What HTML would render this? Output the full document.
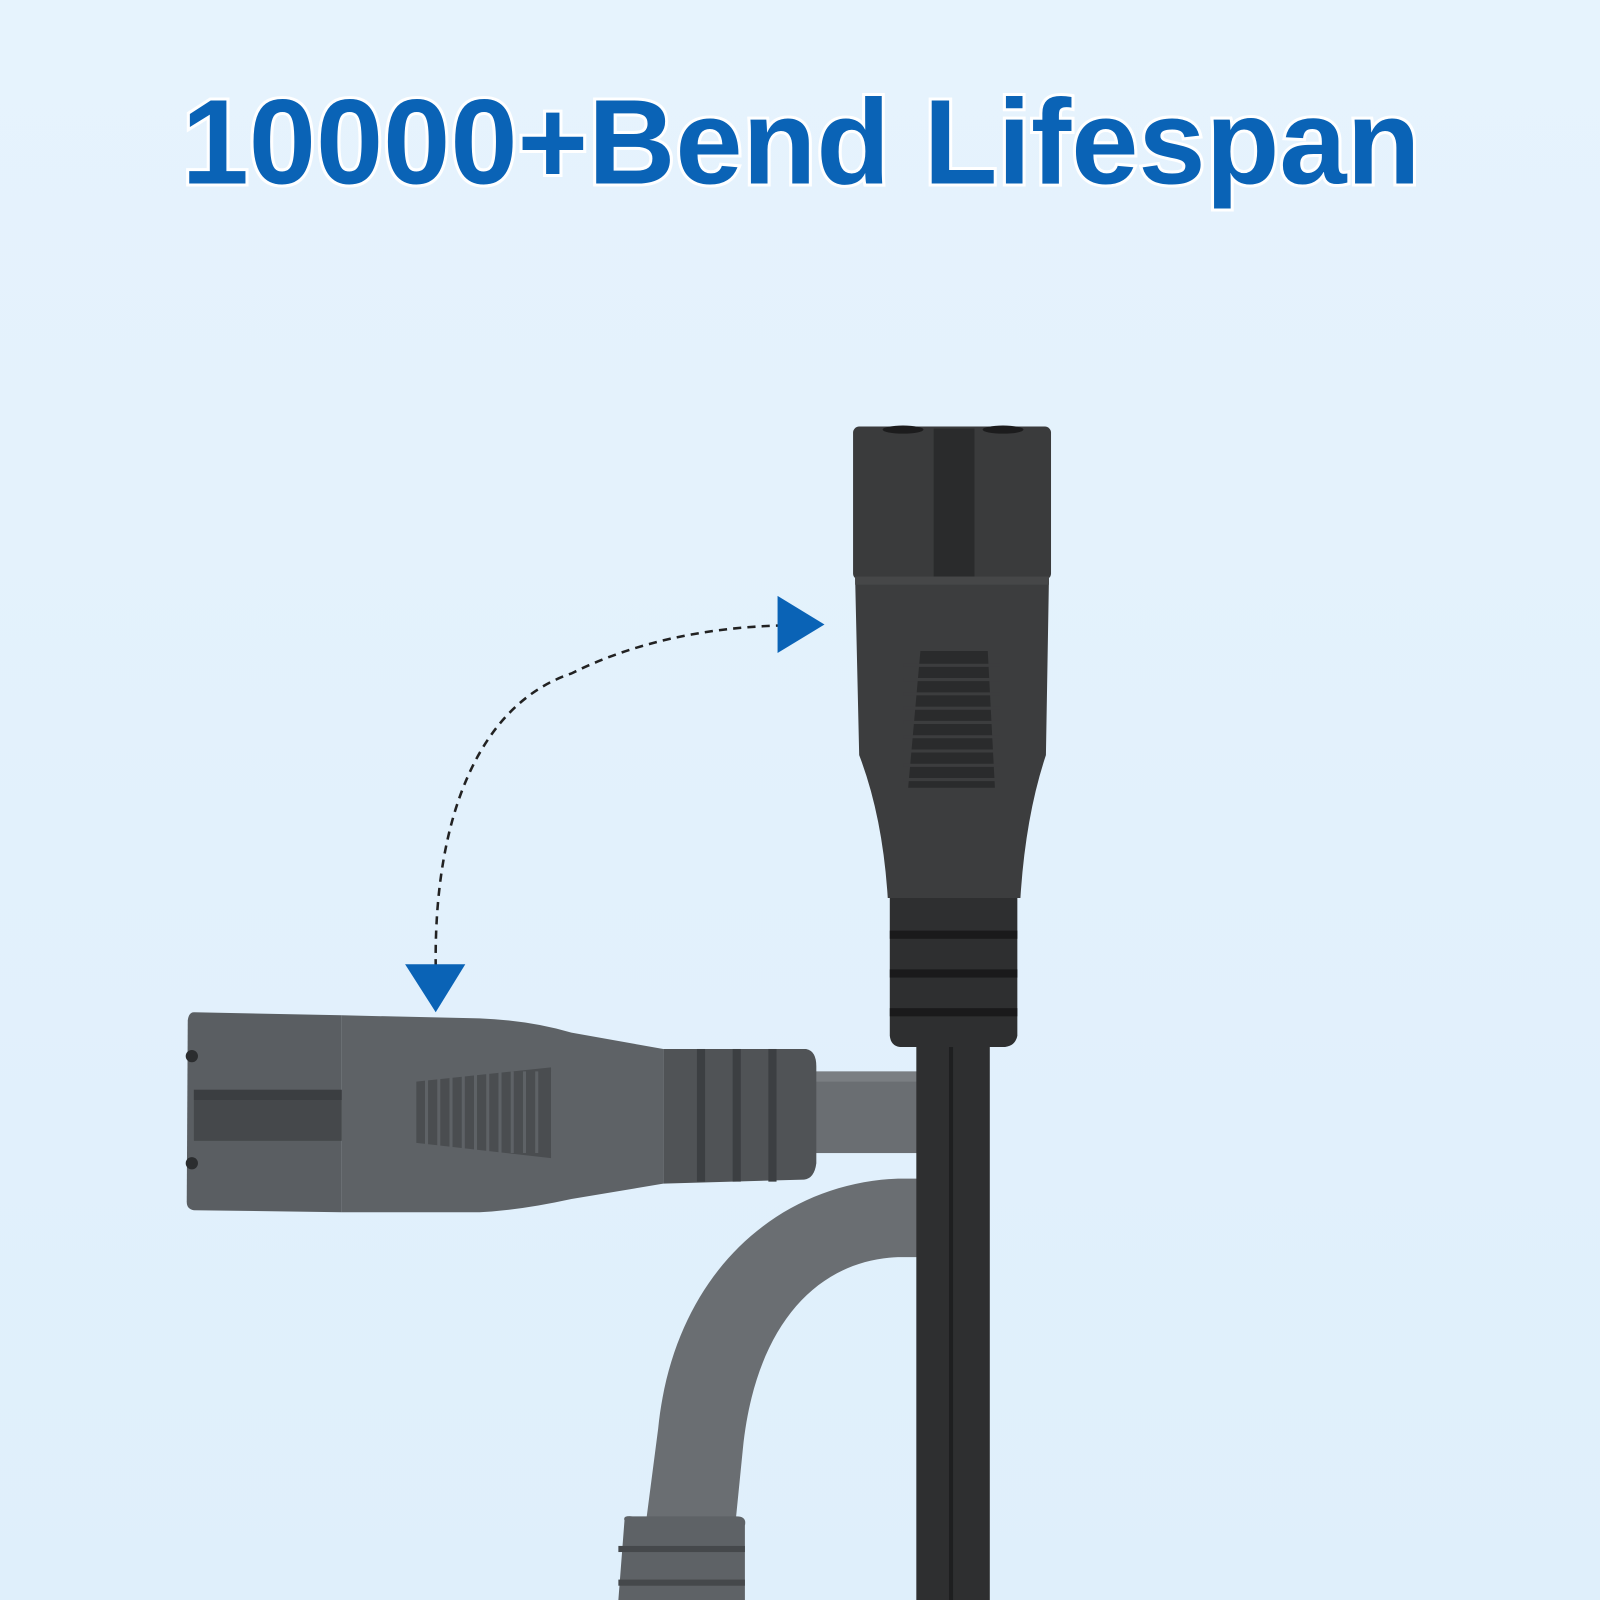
<!DOCTYPE html>
<html><head><meta charset="utf-8"><style>
html,body{margin:0;padding:0;width:1600px;height:1600px;overflow:hidden;background:#e3f1fc}
svg{display:block}
</style></head><body>
<svg width="1600" height="1600" viewBox="0 0 1568 1568" xmlns="http://www.w3.org/2000/svg">
<defs>
<linearGradient id="bg" x1="0" y1="0" x2="0" y2="1"><stop offset="0" stop-color="#e6f3fd"/><stop offset="1" stop-color="#dfeffb"/></linearGradient>
</defs>
<rect width="1568" height="1568" fill="url(#bg)"/>
<text x="785" y="180" text-anchor="middle" font-family="Liberation Sans, sans-serif" font-weight="bold" font-size="118" fill="#0a63b6" stroke="#ffffff" stroke-width="6" paint-order="stroke" textLength="1214" lengthAdjust="spacingAndGlyphs">10000+Bend Lifespan</text>

<!-- bent grey cable -->
<path d="M900 1155 L880 1155 C760 1160 660 1250 645 1400 L632 1500 L720 1500 L728 1420 C740 1300 800 1235 880 1232 L900 1232 Z" fill="#6a6e72"/>
<path d="M612 1490 Q610 1485 620 1486 L722 1486 Q732 1486 730 1495 L730 1568 L606 1568 Z" fill="#5e6266"/>
<rect x="606" y="1515" width="124" height="6" fill="#45484b"/>
<rect x="606" y="1548" width="124" height="6" fill="#45484b"/>

<!-- grey horizontal cable -->
<rect x="790" y="1050" width="115" height="80" fill="#6a6e72"/>
<rect x="790" y="1050" width="115" height="10" fill="#7a7e82"/>
<!-- grey connector -->
<path d="M190 992 L335 995 L335 1188 L190 1186 Q183 1185 183 1178 L184 1000 Q185 992 190 992 Z" fill="#5a5e62"/>
<rect x="190" y="1068" width="145" height="50" fill="#45484b"/>
<rect x="190" y="1068" width="145" height="10" fill="#3b3e41"/>
<circle cx="188" cy="1035" r="6" fill="#2b2d2f"/>
<circle cx="188" cy="1140" r="6" fill="#2b2d2f"/>
<path d="M335 995 L470 998 Q520 1000 560 1012 L650 1028 L650 1160 L560 1175 Q510 1186 470 1188 L335 1188 Z" fill="#5e6266"/>
<path d="M408 1060 L540 1046 L540 1135 L408 1120 Z" fill="#4a4d50"/>
<g stroke="#5e6266" stroke-width="3">
<line x1="418" y1="1050" x2="418" y2="1130"/><line x1="430" y1="1050" x2="430" y2="1130"/><line x1="442" y1="1050" x2="442" y2="1130"/><line x1="454" y1="1050" x2="454" y2="1130"/><line x1="466" y1="1050" x2="466" y2="1130"/><line x1="478" y1="1050" x2="478" y2="1130"/><line x1="490" y1="1050" x2="490" y2="1130"/><line x1="502" y1="1050" x2="502" y2="1130"/><line x1="514" y1="1050" x2="514" y2="1130"/><line x1="526" y1="1050" x2="526" y2="1130"/>
</g>
<path d="M650 1028 L790 1028 Q800 1030 800 1045 L800 1140 Q798 1155 788 1156 L650 1160 Z" fill="#505356"/>
<g fill="#3c3f42"><rect x="683" y="1028" width="8" height="130"/><rect x="718" y="1028" width="8" height="130"/><rect x="753" y="1028" width="8" height="130"/></g>

<!-- black cable -->
<rect x="898" y="1020" width="72" height="548" fill="#2e2f30"/>
<rect x="930" y="1020" width="4" height="548" fill="#1e1f20"/>
<!-- black connector -->
<rect x="836" y="418" width="194" height="150" rx="6" fill="#3a3b3c"/>
<rect x="915" y="420" width="40" height="145" fill="#2a2b2c"/>
<ellipse cx="885" cy="421" rx="20" ry="4" fill="#1c1c1d"/>
<ellipse cx="983" cy="421" rx="20" ry="4" fill="#1c1c1d"/>
<path d="M838 565 L1028 565 L1025 740 Q1005 800 1000 880 L870 880 Q865 800 842 740 Z" fill="#3c3d3e"/>
<rect x="838" y="565" width="190" height="8" fill="#464748"/>
<path d="M902 638 L968 638 L975 772 L890 772 Z" fill="#2a2b2c"/>
<g stroke="#3c3d3e" stroke-width="3">
<line x1="885" y1="652" x2="980" y2="652"/><line x1="885" y1="666" x2="980" y2="666"/><line x1="885" y1="680" x2="980" y2="680"/><line x1="885" y1="694" x2="980" y2="694"/><line x1="885" y1="708" x2="980" y2="708"/><line x1="885" y1="722" x2="980" y2="722"/><line x1="885" y1="736" x2="980" y2="736"/><line x1="885" y1="750" x2="980" y2="750"/><line x1="885" y1="764" x2="980" y2="764"/>
</g>
<path d="M872 880 L997 880 L997 1015 Q995 1025 985 1026 L882 1026 Q873 1025 872 1015 Z" fill="#2e2f30"/>
<g fill="#1a1a1b"><rect x="872" y="912" width="125" height="8"/><rect x="872" y="950" width="125" height="8"/><rect x="872" y="988" width="125" height="8"/></g>

<!-- dashed arc -->
<path d="M427 948 C425 800 470 690 560 660 C620 630 690 615 765 613" fill="none" stroke="#222" stroke-width="2.5" stroke-dasharray="8 6"/>
<polygon points="762,584 808,612 762,640" fill="#0a63b6"/>
<polygon points="397,945 456,945 427,992" fill="#0a63b6"/>
</svg>
</body></html>
